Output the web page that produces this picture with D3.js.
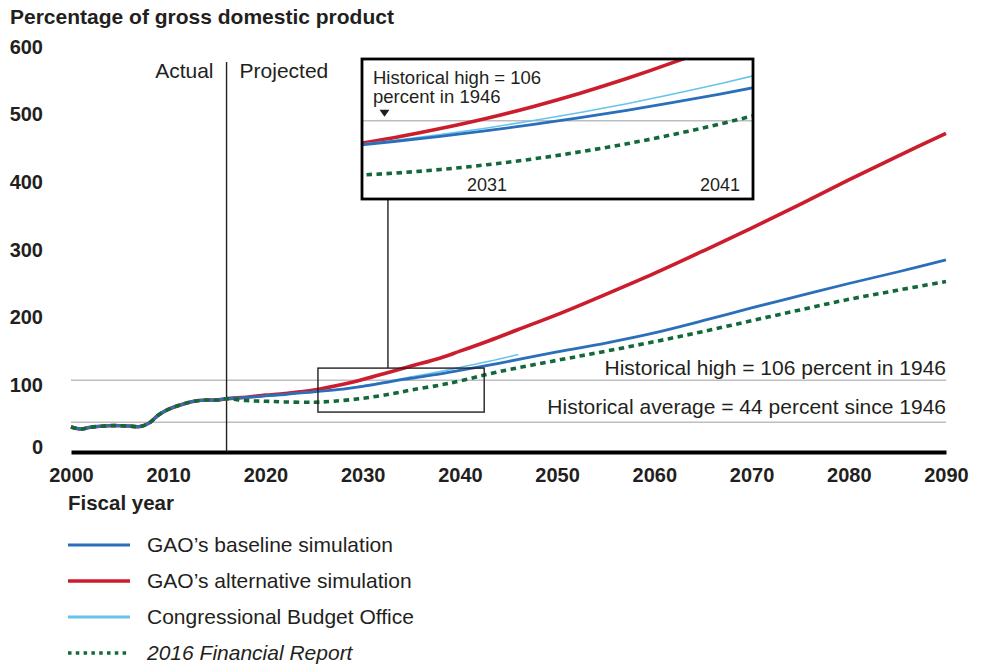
<!DOCTYPE html>
<html><head><meta charset="utf-8">
<script src="https://cdn.jsdelivr.net/npm/d3@7"></script>
<style>
body{margin:0;background:#fff}
text{font-family:"Liberation Sans",Arial,Helvetica,sans-serif;fill:#231f20}
</style>
</head><body>
<svg id="c" width="985" height="666"></svg>
<script>
// ---------- data ----------
const historyYears  = [2000,2001,2002,2003,2004,2005,2006,2007,2008,2009,2010,2011,2012,2013,2014,2015,2016];
const historyValues = [37,34,36.5,38,38.9,38.9,38.4,37.4,42.4,54.7,63,68.4,72.9,75.8,76.8,76.8,78.8];

const baselineYears  = [2018,2020,2022,2025,2028,2030,2033,2035,2038,2040,2044,2050,2055,2060,2065,2070,2075,2080,2085,2090];
const baselineValues = [80.5,83,85,89,93,97,104.5,109,115.5,120.5,131,148,161,176,194,213,231,249,266,284];

const alternativeYears  = [2018,2020,2022,2025,2028,2030,2033,2035,2038,2040,2043,2046,2050,2055,2060,2065,2070,2075,2080,2085,2090];
const alternativeValues = [81,84,86.5,91.6,100,107,119,127,139,149,164.5,181,203,233,264,297,331,366,402,437,471];

const cboYears  = [2018,2020,2025,2028,2030,2033,2035,2038,2040,2043,2046];
const cboValues = [80.5,83,89.2,93.5,97.8,105.5,111,119,125,134,144];

const reportYears  = [2018,2020,2022,2025,2027,2030,2033,2035,2038,2040,2044,2050,2055,2060,2065,2070,2075,2080,2085,2090];
const reportValues = [76,75,74,73.5,75,79.3,86,91.6,99,105,118.7,135.5,149,163,178,194,210,225.6,239,252];

// inset (magnified view)
const insetYears             = [2025.4,2027,2029,2031,2033,2035,2037,2039,2041,2042.5];
const insetBaselineValues    = [91.7,93.9,96.9,100.2,103.8,107.8,112.0,116.6,121.5,125.4];
const insetAlternativeValues = [92.5,96.1,101.4,107.4,114.3,122.0,130.5,139.9,150.1,158];
const insetCboValues         = [92.0,94.5,97.9,101.8,106.1,110.8,115.9,121.5,127.5,132.3];
const insetReportValues      = [74.3,75.5,77.6,80.4,83.8,87.9,92.6,98.0,104.1,109.1];
const insetTickYears = [2031, 2041];
const zoomBoxYears  = [2025.4, 2042.5];
const zoomBoxValues = [59, 124];
const connectorYear = 2032.6;

const xTicks = [2000,2010,2020,2030,2040,2050,2060,2070,2080,2090];
const yTicks = [0,100,200,300,400,500,600];
const divideYear = 2016;
const refLines = [
  {value:106, label:"Historical high = 106 percent in 1946"},
  {value:44,  label:"Historical average = 44 percent since 1946"}
];
const seriesNames = ["GAO’s baseline simulation","GAO’s alternative simulation","Congressional Budget Office","2016 Financial Report"];

// ---------- styles ----------
const C = {blue:"#2b6fba", red:"#cc1d2c", light:"#66c3ec", green:"#11693a", grid:"#bdbdc2"};
const FONT_R = 21;

const svg = d3.select("#c");
const x = d3.scaleLinear().domain([2000,2090]).range([71,946]);
const y = d3.scaleLinear().domain([0,600]).range([452,46]);

const join = (ys, vs) => historyYears.map((d,i)=>[d,historyValues[i]]).concat(ys.map((d,i)=>[d,vs[i]]));
const line = d3.line().x(d=>x(d[0])).y(d=>y(d[1])).curve(d3.curveCatmullRom.alpha(0.5));

// title
svg.append("text").attr("x",10).attr("y",24).attr("font-size",21).attr("font-weight","bold")
  .text("Percentage of gross domestic product");

// reference lines
refLines.forEach((r,i)=>{
  svg.append("line").attr("x1",x(2000)).attr("x2",x(2090)).attr("y1",y(r.value)).attr("y2",y(r.value))
    .attr("stroke",C.grid).attr("stroke-width",1.6);
  svg.append("text").attr("x",x(2090)).attr("y",y(r.value)-(i===0?5:8)).attr("text-anchor","end")
    .attr("font-size",FONT_R).text(r.label);
});

// y axis
const ya = svg.append("g").attr("transform",`translate(${x(2000)},0)`)
  .call(d3.axisLeft(y).tickValues(yTicks).tickSize(0).tickPadding(28).tickFormat(d3.format("d")));
ya.select(".domain").remove();
ya.selectAll("text").attr("font-size",20).attr("font-weight","bold").attr("font-family",null)
  .attr("dy",d=>d===0?"0.05em":"0.36em");

// x axis
const xa = svg.append("g").attr("transform",`translate(0,${y(0)})`)
  .call(d3.axisBottom(x).tickValues(xTicks).tickSize(0).tickPadding(16).tickFormat(d3.format("d")));
xa.select(".domain").attr("stroke","#000").attr("stroke-width",4);
xa.selectAll("text").attr("font-size",20).attr("font-weight","bold").attr("font-family",null);
svg.append("text").attr("x",68).attr("y",510).attr("font-size",20.5).attr("font-weight","bold").text("Fiscal year");

// actual / projected
svg.append("line").attr("x1",x(divideYear)).attr("x2",x(divideYear)).attr("y1",62).attr("y2",y(0))
  .attr("stroke","#231f20").attr("stroke-width",1.4);
svg.append("text").attr("x",x(divideYear)-13).attr("y",78).attr("text-anchor","end").attr("font-size",FONT_R).text("Actual");
svg.append("text").attr("x",x(divideYear)+13).attr("y",78).attr("font-size",FONT_R).text("Projected");

// series
svg.append("path").datum(join(alternativeYears,alternativeValues)).attr("d",line)
  .attr("fill","none").attr("stroke",C.red).attr("stroke-width",3.6);
svg.append("path").datum(join(cboYears,cboValues)).attr("d",line)
  .attr("fill","none").attr("stroke",C.light).attr("stroke-width",1.6);
svg.append("path").datum(join(baselineYears,baselineValues)).attr("d",line)
  .attr("fill","none").attr("stroke",C.blue).attr("stroke-width",2.8);
svg.append("path").datum(join(reportYears,reportValues)).attr("d",line)
  .attr("fill","none").attr("stroke",C.green).attr("stroke-width",3.6).attr("stroke-dasharray","5.5,4.5");

// zoom box in main chart
svg.append("rect").attr("x",x(zoomBoxYears[0])).attr("y",y(zoomBoxValues[1]))
  .attr("width",x(zoomBoxYears[1])-x(zoomBoxYears[0])).attr("height",y(zoomBoxValues[0])-y(zoomBoxValues[1]))
  .attr("fill","none").attr("stroke","#231f20").attr("stroke-width",1.4);

// inset
const inset = {x0:362,x1:753,y0:59,y1:199};
const ix = d3.scaleLinear().domain([2031,2041]).range([487,720]);
const iy = d3.scaleLinear().domain([106,60]).range([120.7,199.8]);
svg.append("line").attr("x1",x(connectorYear)).attr("x2",x(connectorYear)).attr("y1",inset.y1).attr("y2",y(zoomBoxValues[1]))
  .attr("stroke","#231f20").attr("stroke-width",1.4);
svg.append("rect").attr("x",inset.x0).attr("y",inset.y0).attr("width",inset.x1-inset.x0).attr("height",inset.y1-inset.y0)
  .attr("fill","#fff");
svg.append("defs").append("clipPath").attr("id","ic").append("rect")
  .attr("x",inset.x0).attr("y",inset.y0).attr("width",inset.x1-inset.x0).attr("height",inset.y1-inset.y0);
const ig = svg.append("g").attr("clip-path","url(#ic)");
ig.append("line").attr("x1",inset.x0).attr("x2",inset.x1).attr("y1",iy(106)).attr("y2",iy(106))
  .attr("stroke",C.grid).attr("stroke-width",1.6);
const iline = vs => d3.line().x((d,i)=>ix(insetYears[i])).y(d=>iy(d)).curve(d3.curveMonotoneX)(vs);
ig.append("path").attr("d",iline(insetAlternativeValues)).attr("fill","none").attr("stroke",C.red).attr("stroke-width",3.6);
ig.append("path").attr("d",iline(insetCboValues)).attr("fill","none").attr("stroke",C.light).attr("stroke-width",1.6);
ig.append("path").attr("d",iline(insetBaselineValues)).attr("fill","none").attr("stroke",C.blue).attr("stroke-width",2.8);
ig.append("path").attr("d",iline(insetReportValues)).attr("fill","none").attr("stroke",C.green).attr("stroke-width",3.6).attr("stroke-dasharray","5.5,4.5");
insetTickYears.forEach(t=>{
  ig.append("text").attr("x",ix(t)).attr("y",191).attr("text-anchor","middle").attr("font-size",18).text(t);
});
ig.append("text").attr("x",373).attr("y",84).attr("font-size",18.5).text("Historical high = 106");
ig.append("text").attr("x",373).attr("y",103).attr("font-size",18.5).text("percent in 1946");
const tx = ix(2026.6), ty = iy(106)-4;
ig.append("path").attr("d",`M${tx-5},${ty-7}L${tx+5},${ty-7}L${tx},${ty}Z`).attr("fill","#231f20");
svg.append("rect").attr("x",inset.x0).attr("y",inset.y0).attr("width",inset.x1-inset.x0).attr("height",inset.y1-inset.y0)
  .attr("fill","none").attr("stroke","#000").attr("stroke-width",2.8);

// legend
const legY = [545,581,617,653];
const legStyle = [
  {c:C.blue, w:2.8, dash:null},
  {c:C.red, w:3.6, dash:null},
  {c:C.light, w:2.8, dash:null},
  {c:C.green, w:3.6, dash:"3.5,4.3"}
];
seriesNames.forEach((n,i)=>{
  const s = legStyle[i];
  svg.append("line").attr("x1",68).attr("x2",130).attr("y1",legY[i]).attr("y2",legY[i])
    .attr("stroke",s.c).attr("stroke-width",s.w).attr("stroke-dasharray",s.dash);
  svg.append("text").attr("x",147).attr("y",legY[i]+7).attr("font-size",FONT_R)
    .attr("font-style",i===3?"italic":null).text(n);
});
</script>
</body></html>
